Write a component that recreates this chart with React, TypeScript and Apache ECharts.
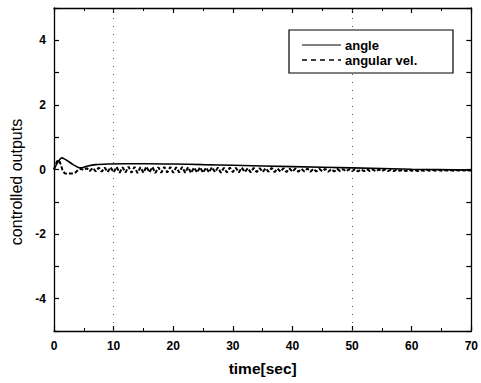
import React, { useEffect, useRef } from "react";
import * as echarts from "echarts";

const angleTime = [0, 0.5, 1, 1.3, 1.8, 2.5, 3.2, 4, 4.5, 5.5, 7, 9, 12, 16, 20, 25, 30, 40, 50, 60, 70];
const angleValues = [0, 0.18, 0.32, 0.36, 0.32, 0.24, 0.15, 0.07, 0.05, 0.1, 0.15, 0.17, 0.18, 0.18, 0.17, 0.15, 0.13, 0.09, 0.05, 0.01, -0.02];

const velEarlyTime = [0, 0.3, 0.7, 1, 1.4, 1.8, 2.2, 2.7, 3.2, 3.6, 4, 4.5];
const velEarlyValues = [0, 0.18, 0.3, 0.22, 0.0, -0.12, -0.13, -0.12, -0.12, -0.09, -0.02, 0.02];

const velChatterStart = 5;
const velChatterStep = 0.5;
const velChatterValues = [
  -0.02, 0.04, -0.05, 0.05, -0.06, 0.06, -0.07, 0.06, -0.08, 0.07,
  -0.09, 0.08, -0.1, 0.07, -0.09, 0.09, -0.1, 0.08, -0.11, 0.07,
  -0.1, 0.09, -0.09, 0.08, -0.11, 0.07, -0.1, 0.08, -0.09, 0.08,
  -0.1, 0.07, -0.09, 0.08, -0.1, 0.07, -0.11, 0.06, -0.09, 0.07,
  -0.1, 0.06, -0.09, 0.07, -0.08, 0.06, -0.1, 0.05, -0.09, 0.06,
  -0.08, 0.05, -0.09, 0.06, -0.08, 0.04, -0.09, 0.05, -0.08, 0.04,
  -0.08, 0.04, -0.07, 0.05, -0.08, 0.03, -0.07, 0.04, -0.08, 0.03,
  -0.07, 0.03, -0.07, 0.02, -0.06, 0.03, -0.07, 0.02, -0.06, 0.02,
  -0.06, 0.02, -0.07, 0.01, -0.06, 0.02, -0.05, 0.01, -0.06, 0.01,
  -0.05, 0.01, -0.06, 0.0, -0.05, 0.01, -0.05, 0.0, -0.06, 0.0,
  -0.05, 0.0, -0.05, -0.01, -0.05, 0.0, -0.04, -0.01, -0.05, -0.01,
  -0.04, -0.01, -0.05, -0.02, -0.04, -0.01, -0.04, -0.02, -0.04, -0.02,
  -0.04, -0.02, -0.03, -0.02, -0.04, -0.02, -0.03, -0.02, -0.03, -0.03, -0.03,
];

const xTicks = [0, 10, 20, 30, 40, 50, 60, 70];
const yTicks = [-4, -2, 0, 2, 4];
const gridMarks = [10, 50];

export default function App() {
  const ref = useRef<HTMLDivElement>(null);
  useEffect(() => {
    if (!ref.current) return;
    const chart = echarts.init(ref.current, null, { renderer: "svg" });
    const angleData = angleTime.map((t, i) => [t, angleValues[i]]);
    const velData = velEarlyTime.map((t, i) => [t, velEarlyValues[i]]);
    velChatterValues.forEach((v, i) => velData.push([velChatterStart + i * velChatterStep, v]));

    const font = "Liberation Sans, Arial, sans-serif";
    const axisCommon = {
      type: "value" as const,
      axisLine: { show: true, onZero: false, lineStyle: { color: "#000", width: 1.3 } },
      axisTick: { show: true, inside: true, length: 5, lineStyle: { color: "#000", width: 1.2 } },
      minorTick: { show: true, splitNumber: 2, length: 3, lineStyle: { color: "#000", width: 1 } },
      splitLine: { show: false },
    };

    chart.setOption({
      animation: false,
      backgroundColor: "#fff",
      grid: { left: 54, right: 8, top: 8, bottom: 52, containLabel: false },
      xAxis: [
        {
          ...axisCommon,
          min: 0,
          max: 70,
          interval: 10,
          position: "bottom",
          axisLabel: {
            color: "#000",
            fontFamily: font,
            fontWeight: "bold",
            fontSize: 12,
            margin: 9,
            formatter: (v: number) => (xTicks.includes(v) ? String(v) : ""),
          },
          name: "time[sec]",
          nameLocation: "middle",
          nameGap: 29,
          nameTextStyle: { color: "#000", fontFamily: font, fontWeight: "bold", fontSize: 15.5 },
        },
        {
          ...axisCommon,
          min: 0,
          max: 70,
          interval: 10,
          position: "top",
          axisLabel: { show: false },
        },
      ],
      yAxis: [
        {
          ...axisCommon,
          min: -5,
          max: 5,
          interval: 1,
          minorTick: { show: false },
          axisLabel: {
            color: "#000",
            fontFamily: font,
            fontWeight: "bold",
            fontSize: 12,
            margin: 8,
            formatter: (v: number) => (yTicks.includes(v) ? String(v) : ""),
          },
        },
        {
          ...axisCommon,
          min: -5,
          max: 5,
          interval: 1,
          minorTick: { show: false },
          position: "right",
          axisLabel: { show: false },
        },
      ],
      series: [
        {
          name: "angle",
          type: "line",
          data: angleData,
          showSymbol: false,
          smooth: 0.3,
          lineStyle: { color: "#000", width: 1.6 },
          markLine: {
            silent: true,
            symbol: "none",
            label: { show: false },
            lineStyle: { color: "#555", type: [1, 7], width: 1 },
            data: gridMarks.map((x) => ({ xAxis: x })),
          },
        },
        {
          name: "angular vel.",
          type: "line",
          data: velData,
          showSymbol: false,
          lineStyle: { color: "#000", width: 2, type: [4, 2] },
        },
      ],
      graphic: [
        {
          type: "text",
          x: 16,
          y: 182,
          rotation: Math.PI / 2,
          style: {
            text: "controlled outputs",
            fill: "#000",
            font: "16px Liberation Sans, Arial, sans-serif",
            align: "center",
            verticalAlign: "middle",
          },
        },
        {
          type: "rect",
          shape: { x: 289, y: 30, width: 164, height: 43 },
          style: { fill: "#fff", stroke: "#000", lineWidth: 1.2 },
          z: 100,
        },
        {
          type: "line",
          shape: { x1: 302, y1: 45, x2: 341, y2: 45 },
          style: { stroke: "#000", lineWidth: 1.2 },
          z: 101,
        },
        {
          type: "line",
          shape: { x1: 302, y1: 60, x2: 341, y2: 60 },
          style: { stroke: "#000", lineWidth: 1.5, lineDash: [5, 4] },
          z: 101,
        },
        {
          type: "text",
          x: 345,
          y: 45,
          style: { text: "angle", fill: "#000", font: "bold 13px Liberation Sans, Arial, sans-serif", verticalAlign: "middle" },
          z: 101,
        },
        {
          type: "text",
          x: 345,
          y: 60,
          style: { text: "angular vel.", fill: "#000", font: "bold 13px Liberation Sans, Arial, sans-serif", verticalAlign: "middle" },
          z: 101,
        },
      ],
    });
    return () => chart.dispose();
  }, []);
  return <div ref={ref} style={{ width: 481, height: 383, position: "absolute", left: 0, top: 0 }} />;
}
